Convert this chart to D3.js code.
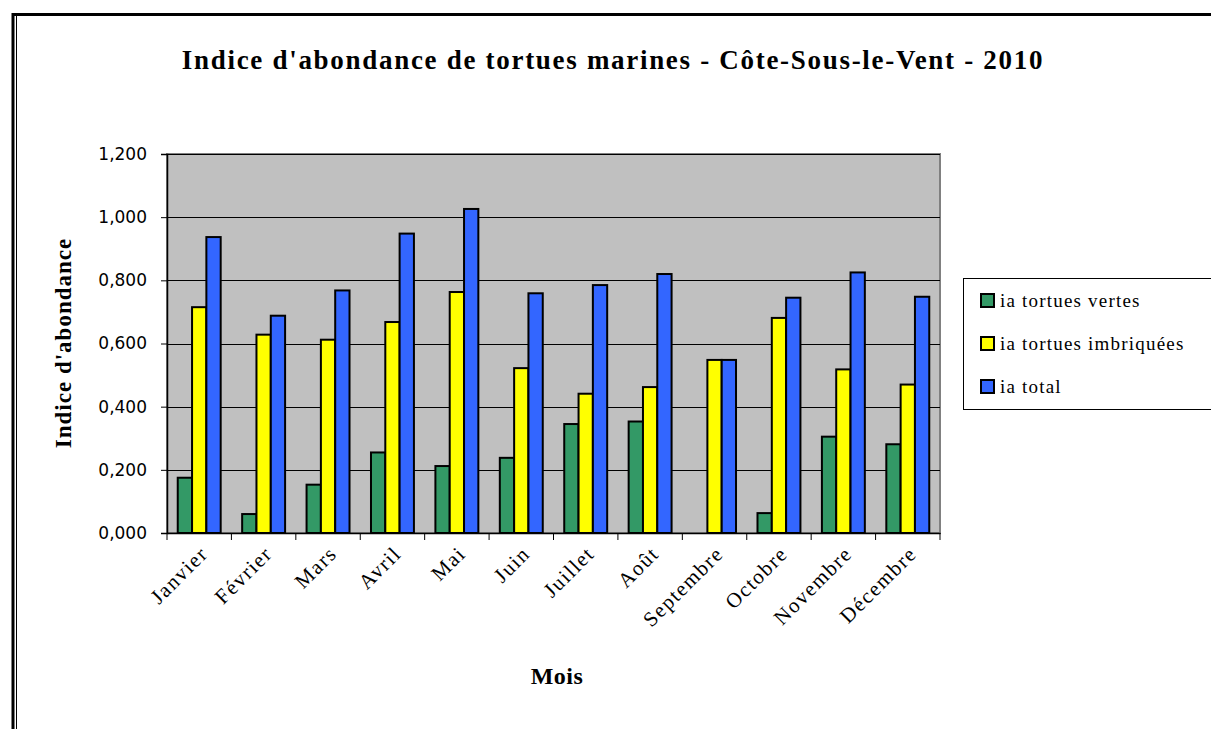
<!DOCTYPE html>
<html>
<head>
<meta charset="utf-8">
<script src="https://cdn.jsdelivr.net/npm/d3@7"></script>
<style>
  body { margin: 0; background: #fff; }
  svg { display: block; }
</style>
</head>
<body>
<svg width="1211" height="729"></svg>
<script>
var mois = ["Janvier", "Février", "Mars", "Avril", "Mai", "Juin", "Juillet", "Août",
            "Septembre", "Octobre", "Novembre", "Décembre"];
var vertes = [0.175, 0.060, 0.153, 0.255, 0.212, 0.238, 0.345, 0.353, 0, 0.063, 0.305, 0.281];
var imbriquees = [0.715, 0.628, 0.612, 0.668, 0.763, 0.522, 0.441, 0.462, 0.548, 0.681, 0.518, 0.470];
var total = [0.937, 0.688, 0.768, 0.948, 1.026, 0.759, 0.785, 0.820, 0.548, 0.745, 0.825, 0.748];
var seriesNames = ["ia tortues vertes", "ia tortues imbriquées", "ia total"];
var seriesColors = ["#339966", "#ffff00", "#3366ff"];
var yTicks = [0, 0.2, 0.4, 0.6, 0.8, 1.0, 1.2];

var series = [vertes, imbriquees, total];
var svg = d3.select("svg"),
    serif = "'Liberation Serif', 'DejaVu Serif', serif",
    sans = "'DejaVu Sans', Verdana, sans-serif";

var plotLeft = 167, plotRight = 940, plotTop = 154, plotBottom = 533;

// frame
svg.append("path").attr("d", "M13,729 V14.5 H1211").attr("fill", "none")
    .attr("stroke", "#000").attr("stroke-width", 3);
svg.append("line").attr("x1", 16.5).attr("x2", 16.5).attr("y1", 16).attr("y2", 729)
    .attr("stroke", "#000").attr("stroke-width", 1);

var x = d3.scaleBand().domain(mois).range([plotLeft, plotRight]);
var x1 = d3.scaleBand().domain([0, 1, 2]).range([0, x.bandwidth()]).paddingOuter(0.75);
var y = d3.scaleLinear().domain([0, 1.2]).range([plotBottom, plotTop]);

// plot area
svg.append("rect").attr("x", plotLeft).attr("y", plotTop)
    .attr("width", plotRight - plotLeft).attr("height", plotBottom - plotTop)
    .attr("fill", "#c0c0c0").attr("stroke", "#808080").attr("stroke-width", 2);

// gridlines
svg.append("g").selectAll("line").data(yTicks.slice(1)).join("line")
    .attr("x1", plotLeft).attr("x2", plotRight)
    .attr("y1", d => Math.round(y(d)) + 0.5).attr("y2", d => Math.round(y(d)) + 0.5)
    .attr("stroke", "#000").attr("stroke-width", 1);

// bars
var groups = svg.append("g").selectAll("g").data(mois).join("g")
    .attr("transform", d => "translate(" + x(d) + ",0)");
groups.selectAll("rect").data((d, i) => series.map((s, k) => ({k: k, v: s[i]})).filter(e => e.v > 0))
    .join("rect")
    .attr("x", d => x1(d.k))
    .attr("width", x1.bandwidth())
    .attr("y", d => y(d.v))
    .attr("height", d => plotBottom - y(d.v))
    .attr("fill", d => seriesColors[d.k])
    .attr("stroke", "#000").attr("stroke-width", 2);

// y axis
var yAxis = svg.append("g").attr("transform", "translate(" + plotLeft + ",0)")
    .call(d3.axisLeft(y).tickValues(yTicks).tickSize(6).tickPadding(14)
        .tickFormat(d => d.toFixed(3).replace(".", ",")));
yAxis.select(".domain").attr("stroke", "#000").attr("stroke-width", 1.5);
yAxis.selectAll(".tick line").attr("stroke", "#000");
yAxis.selectAll("text").attr("font-family", sans).attr("font-size", 17).attr("fill", "#000");

// x axis
var xAxis = svg.append("g").attr("transform", "translate(0," + plotBottom + ")")
    .call(d3.axisBottom(x).tickSize(0).tickFormat(""));
xAxis.select(".domain").attr("stroke", "#000").attr("stroke-width", 1.5);
xAxis.selectAll(".tick").remove();
xAxis.selectAll("line.sep").data(d3.range(mois.length + 1)).join("line")
    .attr("class", "sep")
    .attr("x1", i => plotLeft + i * x.step()).attr("x2", i => plotLeft + i * x.step())
    .attr("y1", 0).attr("y2", 7).attr("stroke", "#000").attr("stroke-width", 1);
xAxis.selectAll("text.lab").data(mois).join("text")
    .attr("class", "lab")
    .attr("transform", d => "translate(" + (x(d) + x.bandwidth() / 2 + 10) + ",22) rotate(-45)")
    .attr("text-anchor", "end")
    .attr("font-family", serif).attr("font-size", 21).attr("letter-spacing", 1.5).attr("fill", "#000")
    .text(d => d);

// titles
svg.append("text").attr("x", 613).attr("y", 69).attr("text-anchor", "middle")
    .attr("font-family", serif).attr("font-weight", "bold").attr("font-size", 27)
    .attr("letter-spacing", 1.7)
    .text("Indice d'abondance de tortues marines - Côte-Sous-le-Vent - 2010");
svg.append("text").attr("transform", "translate(71,343) rotate(-90)").attr("text-anchor", "middle")
    .attr("font-family", serif).attr("font-weight", "bold").attr("font-size", 23)
    .attr("letter-spacing", 1)
    .text("Indice d'abondance");
svg.append("text").attr("x", 557).attr("y", 684).attr("text-anchor", "middle")
    .attr("font-family", serif).attr("font-weight", "bold").attr("font-size", 24)
    .attr("letter-spacing", 0.5)
    .text("Mois");

// legend
var lg = svg.append("g").attr("transform", "translate(963,278)");
lg.append("rect").attr("x", 0.5).attr("y", 0.5).attr("width", 260).attr("height", 131)
    .attr("fill", "#fff").attr("stroke", "#000").attr("stroke-width", 1);
var item = lg.selectAll("g.item").data(seriesNames).join("g").attr("class", "item")
    .attr("transform", (d, i) => "translate(0," + (22 + i * 43) + ")");
item.append("rect").attr("x", 18).attr("y", -6).attr("width", 13).attr("height", 13)
    .attr("fill", (d, i) => seriesColors[i]).attr("stroke", "#000").attr("stroke-width", 2);
item.append("text").attr("x", 37).attr("y", 7)
    .attr("font-family", serif).attr("font-size", 19).attr("letter-spacing", 1.2).attr("fill", "#000")
    .text(d => d);
</script>
</body>
</html>
